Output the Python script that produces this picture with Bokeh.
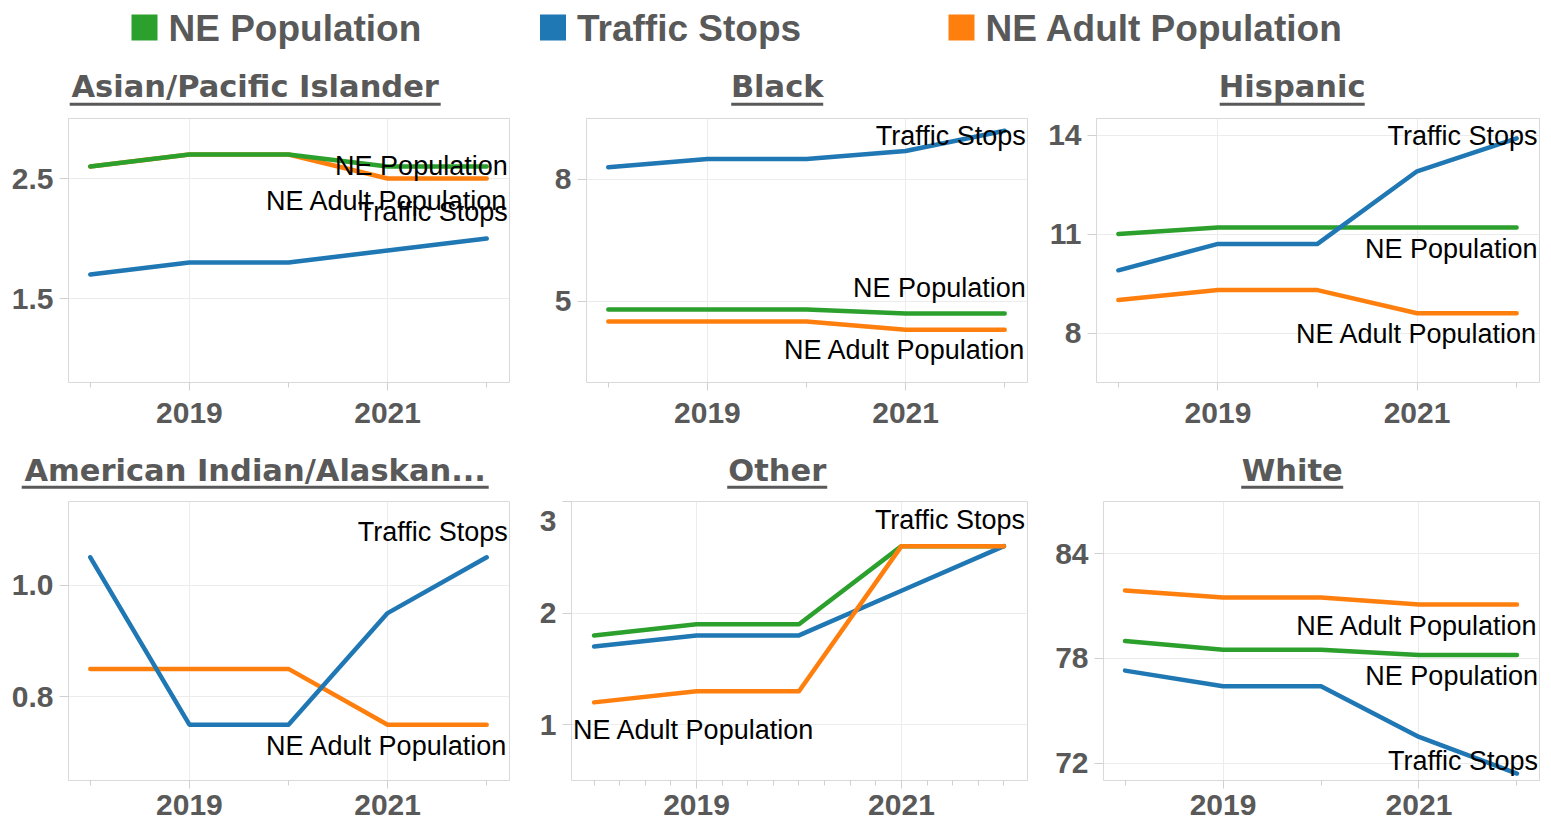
import numpy as np
from bokeh.plotting import figure
from bokeh.layouts import column, row
from bokeh.models import Range1d, FixedTicker, PrintfTickFormatter, LinearAxis
from bokeh.core.properties import value
from bokeh.embed import file_html
from bokeh.resources import INLINE

# ---------------- data ----------------
years = [2018, 2019, 2020, 2021, 2022]
x_major_ticks = [2019, 2021]
series_names = ["NE Population", "Traffic Stops", "NE Adult Population"]
series_colors = ["#2ca02c", "#1f77b4", "#ff7f0e"]

groups = ["Asian/Pacific Islander", "Black", "Hispanic",
          "American Indian/Alaskan...", "Other", "White"]

asian_pop = [2.6, 2.7, 2.7, 2.6, 2.6]
asian_stops = [1.7, 1.8, 1.8, 1.9, 2.0]
asian_adult = [2.6, 2.7, 2.7, 2.5, 2.5]

black_pop = [4.8, 4.8, 4.8, 4.7, 4.7]
black_stops = [8.3, 8.5, 8.5, 8.7, 9.2]
black_adult = [4.5, 4.5, 4.5, 4.3, 4.3]

hispanic_pop = [11.0, 11.2, 11.2, 11.2, 11.2]
hispanic_stops = [9.9, 10.7, 10.7, 12.9, 13.9]
hispanic_adult = [9.0, 9.3, 9.3, 8.6, 8.6]

aian_stops = [1.05, 0.75, 0.75, 0.95, 1.05]
aian_adult = [0.85, 0.85, 0.85, 0.75, 0.75]

other_pop = [1.8, 1.9, 1.9, 2.6, 2.6]
other_stops = [1.7, 1.8, 1.8, 2.2, 2.6]
other_adult = [1.2, 1.3, 1.3, 2.6, 2.6]

white_pop = [79.0, 78.5, 78.5, 78.2, 78.2]
white_stops = [77.3, 76.4, 76.4, 73.5, 71.4]
white_adult = [81.9, 81.5, 81.5, 81.1, 81.1]

panel_data = {
    "Asian/Pacific Islander": {"NE Population": asian_pop, "Traffic Stops": asian_stops, "NE Adult Population": asian_adult},
    "Black": {"NE Population": black_pop, "Traffic Stops": black_stops, "NE Adult Population": black_adult},
    "Hispanic": {"NE Population": hispanic_pop, "Traffic Stops": hispanic_stops, "NE Adult Population": hispanic_adult},
    "American Indian/Alaskan...": {"Traffic Stops": aian_stops, "NE Adult Population": aian_adult},
    "Other": {"NE Population": other_pop, "Traffic Stops": other_stops, "NE Adult Population": other_adult},
    "White": {"NE Population": white_pop, "Traffic Stops": white_stops, "NE Adult Population": white_adult},
}

y_ticks = {
    "Asian/Pacific Islander": [1.5, 2.5],
    "Black": [5, 8],
    "Hispanic": [8, 11, 14],
    "American Indian/Alaskan...": [0.8, 1.0],
    "Other": [1, 2, 3],
    "White": [72, 78, 84],
}
y_domain = {
    "Asian/Pacific Islander": (0.8, 3.0),
    "Black": (3.0, 9.5),
    "Hispanic": (6.5, 14.5),
    "American Indian/Alaskan...": (0.65, 1.15),
    "Other": (0.5, 3.0),
    "White": (71, 87),
}

# ---------------- style / layout ----------------
GRAY = "#595959"
color_of = dict(zip(series_names, series_colors))
col_w = [520, 515, 516]
title_cx = [254.7, 256.7, 256.7]
underline_w = {"Asian/Pacific Islander": 371, "Black": 92, "Hispanic": 145,
               "American Indian/Alaskan...": 467, "Other": 100, "White": 102}
side_borders = {"Asian/Pacific Islander": (68, 11), "Black": (66, 8), "Hispanic": (61, 12),
                "American Indian/Alaskan...": (68, 11), "Other": (51, 8), "White": (68, 12)}
row_geom = [dict(h=325, top=6, bottom=55, standoff=12), dict(h=336, top=12, bottom=45, standoff=6)]
header_geom = [dict(h=52, mid=25.8, ul=43.8), dict(h=52, mid=33, ul=49.7)]
y_fmt = {"Asian/Pacific Islander": "%.1f", "American Indian/Alaskan...": "%.1f"}
minor_step = {"Other": 0.25}
draw_order = {"Other": ["NE Population", "Traffic Stops", "NE Adult Population"]}
default_order = ["NE Adult Population", "NE Population", "Traffic Stops"]
# (series, anchor, vertical offset of label centre in px, + = down)
label_specs = {
    "Asian/Pacific Islander": [("NE Population", "end", -1), ("NE Adult Population", "end", 22), ("Traffic Stops", "end", -26.2)],
    "Black": [("Traffic Stops", "end", 5.6), ("NE Population", "end", -25.1), ("NE Adult Population", "end", 20.3)],
    "Hispanic": [("Traffic Stops", "end", -2), ("NE Population", "end", 21.3), ("NE Adult Population", "end", 20.3)],
    "American Indian/Alaskan...": [("Traffic Stops", "end", -25.4), ("NE Adult Population", "end", 21.3)],
    "Other": [("Traffic Stops", "end", -25.7), ("NE Adult Population", "start", 27.6)],
    "White": [("NE Adult Population", "end", 22), ("NE Population", "end", 21.3), ("Traffic Stops", "end", -13)],
}
Y_TICK_OUT, Y_STANDOFF = 9, 6
FLUSH_PX = 19.3   # a label on the top edge is pushed this far inside the frame


def style_axis(ax):
    ax.axis_line_color = None
    ax.major_tick_line_color = "#d0d0d0"
    ax.minor_tick_line_color = "#d0d0d0"
    ax.major_tick_in = 0
    ax.minor_tick_in = 0
    ax.major_label_text_font = "Liberation Sans"
    ax.major_label_text_font_style = "bold"
    ax.major_label_text_font_size = "30px"
    ax.major_label_text_color = GRAY


def blank_fig(w, h):
    p = figure(width=w, height=h, x_range=Range1d(0, w), y_range=Range1d(h, 0),
               output_backend="svg", toolbar_location=None, title=None,
               x_axis_location=None, y_axis_location=None,
               min_border_left=0, min_border_right=0, min_border_top=0, min_border_bottom=0,
               outline_line_color=None, background_fill_color="white", border_fill_color="white")
    p.xgrid.visible = False
    p.ygrid.visible = False
    return p


def make_legend():
    w, h = sum(col_w), 60
    p = blank_fig(w, h)
    lefts = [131 + i * 408.5 for i in range(len(series_names))]
    p.scatter(x=[l + 13 for l in lefts], y=[27] * 3, marker="square", size=26,
              fill_color=series_colors, line_color=None)
    p.text(x=[l + 37 for l in lefts], y=[27.5] * 3, text=series_names,
           text_font=value("Liberation Sans"), text_font_style="bold", text_font_size="37px",
           text_color=GRAY, text_baseline="middle", text_align="left")
    return p


def make_header(g, ci, ri):
    hg = header_geom[ri]
    p = blank_fig(col_w[ci], hg["h"])
    cx = title_cx[ci]
    p.text(x=[cx], y=[hg["mid"]], text=[g], text_align="center", text_baseline="middle",
           text_font=value("DejaVu Sans"), text_font_style="bold", text_font_size="30.5px",
           text_color=GRAY)
    uw = underline_w[g]
    p.segment(x0=[cx - uw / 2], y0=[hg["ul"]], x1=[cx + uw / 2], y1=[hg["ul"]],
              line_color=GRAY, line_width=3)
    return p


def make_panel(g, ci, ri):
    rg = row_geom[ri]
    mbl, mbr = side_borders[g]
    lo, hi = y_domain[g]
    p = figure(width=col_w[ci], height=rg["h"],
               x_range=Range1d(years[0] - 0.22, years[-1] + 0.23), y_range=Range1d(lo, hi),
               output_backend="svg", toolbar_location=None, title=None,
               min_border_left=mbl, min_border_right=mbr,
               min_border_top=rg["top"], min_border_bottom=rg["bottom"],
               outline_line_color="#d9d9d9", background_fill_color="white", border_fill_color="white")
    xax, yax = p.xaxis[0], p.yaxis[0]
    step = minor_step.get(g, 1)
    xax.ticker = FixedTicker(ticks=x_major_ticks,
                             minor_ticks=list(np.arange(years[0], years[-1] + 1e-9, step)))
    xax.formatter = PrintfTickFormatter(format="%d")
    fmt = y_fmt.get(g, "%d")
    yax.ticker = FixedTicker(ticks=y_ticks[g])
    yax.formatter = PrintfTickFormatter(format=fmt)
    style_axis(xax)
    style_axis(yax)
    xax.major_tick_out = 8
    xax.minor_tick_out = 5
    xax.major_label_standoff = rg["standoff"]
    yax.major_tick_out = Y_TICK_OUT
    yax.minor_tick_out = 0
    yax.minor_tick_line_color = None
    yax.major_label_standoff = Y_STANDOFF
    p.xgrid.grid_line_color = "#ececec"
    p.ygrid.grid_line_color = "#ececec"

    # tick labels on the top edge are flushed inside the frame: the tick axis keeps
    # the marks/grid, an outer label-only axis carries the (shifted) labels
    flush = [t for t in y_ticks[g] if abs(t - hi) < 1e-9]
    if flush:
        frame_h = rg["h"] - rg["top"] - rg["bottom"]
        shift = FLUSH_PX * (hi - lo) / frame_h
        lab_pos = {t: (t - shift if t in flush else t) for t in y_ticks[g]}
        yax.major_label_overrides = {float(t): "" for t in y_ticks[g]}
        yax.major_label_standoff = 0
        lab_ax = LinearAxis(ticker=FixedTicker(ticks=[lab_pos[t] for t in y_ticks[g]]),
                            formatter=PrintfTickFormatter(format=fmt))
        style_axis(lab_ax)
        lab_ax.major_tick_out = 0
        lab_ax.major_tick_line_color = None
        lab_ax.minor_tick_line_color = None
        lab_ax.major_label_standoff = Y_STANDOFF
        lab_ax.major_label_overrides = {float(lab_pos[t]): fmt % t for t in flush}
        p.add_layout(lab_ax, "left")

    d = panel_data[g]
    for s in draw_order.get(g, default_order):
        if s in d:
            p.line(years, d[s], line_color=color_of[s], line_width=4.5,
                   line_cap="round", line_join="round")
    for s, where, dy in label_specs[g]:
        vals = d[s]
        if where == "end":
            x, y, align, dx = years[-1], vals[-1], "right", 21
        else:
            x, y, align, dx = years[0], vals[0], "left", -21
        p.text(x=[x], y=[y], text=[s], x_offset=dx, y_offset=dy, text_align=align,
               text_baseline="middle", text_font=value("Liberation Sans"),
               text_font_size="27px", text_color="black")
    return p


rows = [make_legend()]
for ri in range(2):
    gs = groups[ri * 3:(ri + 1) * 3]
    rows.append(row(*[make_header(g, ci, ri) for ci, g in enumerate(gs)]))
    rows.append(row(*[make_panel(g, ci, ri) for ci, g in enumerate(gs)]))

layout = column(*rows)
open("out.html", "w").write(file_html(layout, INLINE))
